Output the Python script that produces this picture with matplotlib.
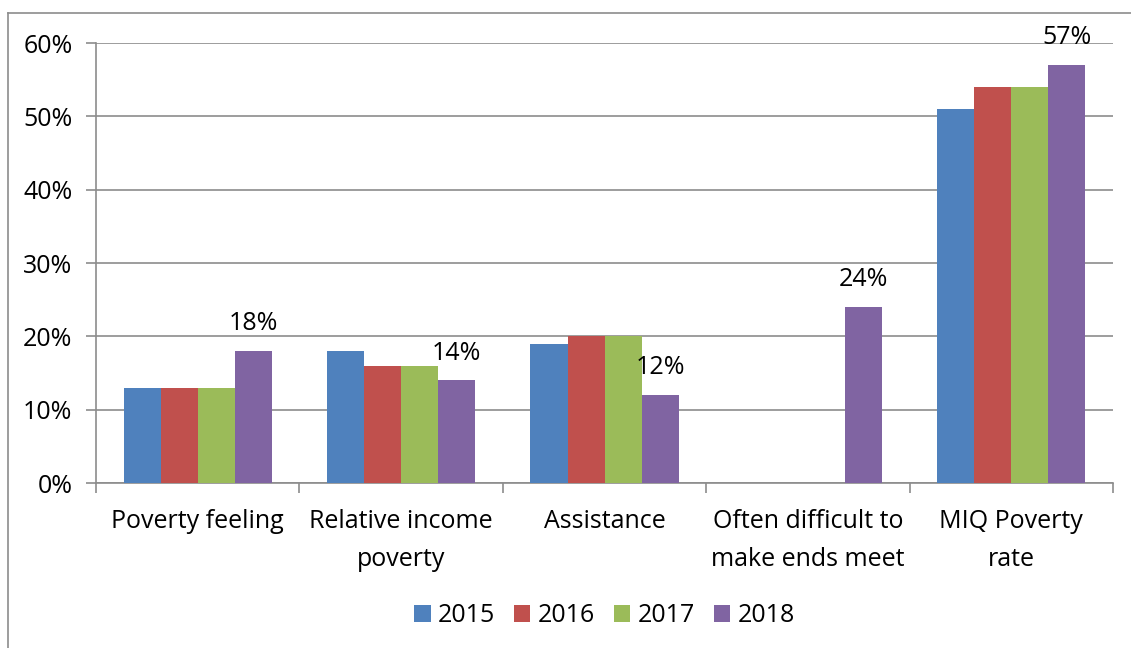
import matplotlib.pyplot as plt
import numpy as np
from matplotlib.lines import Line2D

categories = ['Poverty feeling', 'Relative income\npoverty', 'Assistance',
              'Often difficult to\nmake ends meet', 'MIQ Poverty\nrate']
years = ['2015', '2016', '2017', '2018']
v2015 = [13, 18, 19, np.nan, 51]
v2016 = [13, 16, 20, np.nan, 54]
v2017 = [13, 16, 20, np.nan, 54]
v2018 = [18, 14, 12, 24, 57]
colors = ['#4F81BD', '#C0504D', '#9BBB59', '#8064A2']

plt.rcParams['font.family'] = ['Open Sans', 'DejaVu Sans']
fs = 18

fig = plt.figure(figsize=(11.31, 6.48), dpi=100)
ax = fig.add_axes([0.0849, 0.2546, 0.8992, 0.679])

x = np.arange(len(categories))
w = 0.182
series = [v2015, v2016, v2017, v2018]
for i, (vals, c, yr) in enumerate(zip(series, colors, years)):
    pos = x + (i - 1.5) * w
    ax.bar(pos, vals, w, color=c, label=yr, zorder=3)
    if yr == '2018':
        for p, v in zip(pos, vals):
            ax.text(p, v + 2.0, f'{v:.0f}%', ha='center', va='bottom', fontsize=fs)

ax.set_xlim(-0.5, len(categories) - 0.5)
ax.set_ylim(0, 60)
ax.set_yticks(range(0, 61, 10))
ax.set_yticklabels([f'{t}%' for t in range(0, 61, 10)], fontsize=fs)
ax.yaxis.grid(True, color='#8c8c8c', linewidth=1.2, zorder=0)
ax.set_axisbelow(True)

ax.set_xticks(np.arange(-0.5, len(categories), 1.0))
ax.set_xticklabels([])
ax.set_xticks(x, minor=True)
ax.set_xticklabels(categories, minor=True, fontsize=fs, linespacing=1.65)
ax.tick_params(axis='x', which='minor', length=0, pad=19)
ax.tick_params(axis='x', which='major', length=7, color='#8c8c8c', width=1.2)
ax.tick_params(axis='y', length=7, color='#8c8c8c', width=1.2, pad=10)
for s in ['top', 'right']:
    ax.spines[s].set_visible(False)
for s in ['left', 'bottom']:
    ax.spines[s].set_color('#8c8c8c')
    ax.spines[s].set_linewidth(1.2)

ax.legend(loc='center', bbox_to_anchor=(0.5, -0.302), ncol=4, frameon=False,
          fontsize=fs, handlelength=0.65, handleheight=0.65, handletextpad=0.3,
          columnspacing=0.75)

# outer chart frame
fig.add_artist(Line2D([8 / 1131, 8 / 1131], [0, 1 - 13 / 648], color='#8c8c8c', lw=1.2))
fig.add_artist(Line2D([8 / 1131, 1], [1 - 13 / 648, 1 - 13 / 648], color='#8c8c8c', lw=1.2))

fig.savefig('out.png', dpi=100)
